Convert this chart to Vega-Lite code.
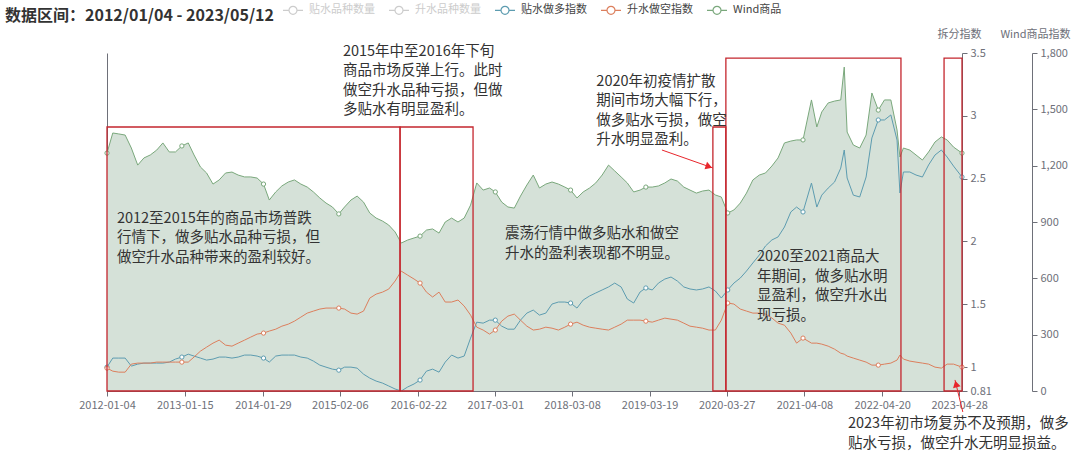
{
  "$schema": "https://vega.github.io/schema/vega-lite/v6.json",
  "width": 855,
  "height": 338,
  "autosize": {"type": "none"},
  "padding": {"left": 107, "top": 53, "right": 118, "bottom": 64},
  "background": "white",
  "config": {
    "font": "Noto Sans CJK SC",
    "view": {"stroke": null},
    "axis": {"grid": false, "domainColor": "#6e7079", "tickColor": "#6e7079", "labelColor": "#6e7079", "labelFontSize": 11, "labelFont": "Noto Sans CJK SC", "titleFont": "Noto Sans CJK SC"}
  },
  "datasets": {
    "main": [
      {"date":"2012-01-04","wind":1267,"贴水做多指数":1.000,"升水做空指数":0.992},
      {"date":"2012-02-01","wind":1374,"贴水做多指数":1.072,"升水做空指数":0.968},
      {"date":"2012-03-01","wind":1369,"贴水做多指数":1.072,"升水做空指数":0.960},
      {"date":"2012-04-01","wind":1363,"贴水做多指数":1.072,"升水做空指数":0.960},
      {"date":"2012-05-01","wind":1294,"贴水做多指数":1.008,"升水做空指数":1.024},
      {"date":"2012-06-01","wind":1203,"贴水做多指数":1.024,"升水做空指数":1.032},
      {"date":"2012-07-01","wind":1241,"贴水做多指数":1.032,"升水做空指数":1.032},
      {"date":"2012-08-01","wind":1257,"贴水做多指数":1.032,"升水做空指数":1.032},
      {"date":"2012-09-01","wind":1283,"贴水做多指数":1.032,"升水做空指数":1.040},
      {"date":"2012-10-01","wind":1321,"贴水做多指数":1.032,"升水做空指数":1.040},
      {"date":"2012-11-01","wind":1273,"贴水做多指数":1.040,"升水做空指数":1.040},
      {"date":"2012-12-01","wind":1273,"贴水做多指数":1.064,"升水做空指数":1.040},
      {"date":"2013-01-01","wind":1305,"贴水做多指数":1.080,"升水做空指数":1.040},
      {"date":"2013-02-01","wind":1321,"贴水做多指数":1.103,"升水做空指数":1.040},
      {"date":"2013-03-01","wind":1257,"贴水做多指数":1.088,"升水做空指数":1.080},
      {"date":"2013-04-01","wind":1193,"贴水做多指数":1.072,"升水做空指数":1.127},
      {"date":"2013-05-01","wind":1161,"贴水做多指数":1.056,"升水做空指数":1.159},
      {"date":"2013-06-01","wind":1102,"贴水做多指数":1.064,"升水做空指数":1.191},
      {"date":"2013-07-01","wind":1124,"贴水做多指数":1.080,"升水做空指数":1.215},
      {"date":"2013-08-01","wind":1161,"贴水做多指数":1.080,"升水做空指数":1.175},
      {"date":"2013-09-01","wind":1166,"贴水做多指数":1.072,"升水做空指数":1.167},
      {"date":"2013-10-01","wind":1150,"贴水做多指数":1.080,"升水做空指数":1.191},
      {"date":"2013-11-01","wind":1140,"贴水做多指数":1.096,"升水做空指数":1.215},
      {"date":"2013-12-01","wind":1140,"贴水做多指数":1.096,"升水做空指数":1.239},
      {"date":"2014-01-01","wind":1134,"贴水做多指数":1.088,"升水做空指数":1.263},
      {"date":"2014-02-01","wind":1102,"贴水做多指数":1.072,"升水做空指数":1.271},
      {"date":"2014-03-01","wind":1017,"贴水做多指数":1.040,"升水做空指数":1.287},
      {"date":"2014-04-01","wind":1060,"贴水做多指数":1.088,"升水做空指数":1.302},
      {"date":"2014-05-01","wind":1092,"贴水做多指数":1.096,"升水做空指数":1.326},
      {"date":"2014-06-01","wind":1113,"贴水做多指数":1.096,"升水做空指数":1.342},
      {"date":"2014-07-01","wind":1124,"贴水做多指数":1.096,"升水做空指数":1.366},
      {"date":"2014-08-01","wind":1102,"贴水做多指数":1.080,"升水做空指数":1.398},
      {"date":"2014-09-01","wind":1086,"贴水做多指数":1.072,"升水做空指数":1.430},
      {"date":"2014-10-01","wind":1060,"贴水做多指数":1.048,"升水做空指数":1.446},
      {"date":"2014-11-01","wind":1028,"贴水做多指数":1.016,"升水做空指数":1.462},
      {"date":"2014-12-01","wind":1001,"贴水做多指数":1.000,"升水做空指数":1.470},
      {"date":"2015-01-01","wind":980,"贴水做多指数":0.984,"升水做空指数":1.470},
      {"date":"2015-02-01","wind":943,"贴水做多指数":0.976,"升水做空指数":1.470},
      {"date":"2015-03-01","wind":980,"贴水做多指数":1.000,"升水做空指数":1.462},
      {"date":"2015-04-01","wind":1017,"贴水做多指数":1.000,"升水做空指数":1.430},
      {"date":"2015-05-01","wind":1038,"贴水做多指数":0.992,"升水做空指数":1.422},
      {"date":"2015-06-01","wind":1006,"贴水做多指数":0.944,"升水做空指数":1.446},
      {"date":"2015-07-01","wind":948,"贴水做多指数":0.913,"升水做空指数":1.549},
      {"date":"2015-08-01","wind":921,"贴水做多指数":0.889,"升水做空指数":1.581},
      {"date":"2015-09-01","wind":905,"贴水做多指数":0.873,"升水做空指数":1.597},
      {"date":"2015-10-01","wind":884,"贴水做多指数":0.850,"升水做空指数":1.621},
      {"date":"2015-11-01","wind":847,"贴水做多指数":0.826,"升水做空指数":1.685},
      {"date":"2015-12-01","wind":788,"贴水做多指数":0.810,"升水做空指数":1.764},
      {"date":"2016-01-01","wind":804,"贴水做多指数":0.842,"升水做空指数":1.732},
      {"date":"2016-02-01","wind":815,"贴水做多指数":0.866,"升水做空指数":1.701},
      {"date":"2016-03-01","wind":825,"贴水做多指数":0.897,"升水做空指数":1.669},
      {"date":"2016-04-01","wind":857,"贴水做多指数":0.968,"升水做空指数":1.597},
      {"date":"2016-05-01","wind":863,"贴水做多指数":0.984,"升水做空指数":1.558},
      {"date":"2016-06-01","wind":841,"贴水做多指数":0.960,"升水做空指数":1.597},
      {"date":"2016-07-01","wind":900,"贴水做多指数":1.040,"升水做空指数":1.518},
      {"date":"2016-08-01","wind":921,"贴水做多指数":1.096,"升水做空指数":1.518},
      {"date":"2016-09-01","wind":900,"贴水做多指数":1.072,"升水做空指数":1.534},
      {"date":"2016-10-01","wind":921,"贴水做多指数":1.088,"升水做空指数":1.486},
      {"date":"2016-11-01","wind":990,"贴水做多指数":1.231,"升水做空指数":1.414},
      {"date":"2016-12-01","wind":1108,"贴水做多指数":1.358,"升水做空指数":1.318},
      {"date":"2017-01-01","wind":1070,"贴水做多指数":1.350,"升水做空指数":1.295},
      {"date":"2017-02-01","wind":1081,"贴水做多指数":1.374,"升水做空指数":1.263},
      {"date":"2017-03-01","wind":1060,"贴水做多指数":1.374,"升水做空指数":1.295},
      {"date":"2017-04-01","wind":1006,"贴水做多指数":1.326,"升水做空指数":1.366},
      {"date":"2017-05-01","wind":980,"贴水做多指数":1.302,"升水做空指数":1.406},
      {"date":"2017-06-01","wind":974,"贴水做多指数":1.302,"升水做空指数":1.422},
      {"date":"2017-07-01","wind":1038,"贴水做多指数":1.374,"升水做空指数":1.374},
      {"date":"2017-08-01","wind":1097,"贴水做多指数":1.430,"升水做空指数":1.326},
      {"date":"2017-09-01","wind":1150,"贴水做多指数":1.454,"升水做空指数":1.295},
      {"date":"2017-10-01","wind":1081,"贴水做多指数":1.414,"升水做空指数":1.302},
      {"date":"2017-11-01","wind":1102,"贴水做多指数":1.430,"升水做空指数":1.318},
      {"date":"2017-12-01","wind":1113,"贴水做多指数":1.502,"升水做空指数":1.310},
      {"date":"2018-01-01","wind":1102,"贴水做多指数":1.518,"升水做空指数":1.295},
      {"date":"2018-02-01","wind":1086,"贴水做多指数":1.518,"升水做空指数":1.318},
      {"date":"2018-03-01","wind":1070,"贴水做多指数":1.510,"升水做空指数":1.342},
      {"date":"2018-04-01","wind":1028,"贴水做多指数":1.470,"升水做空指数":1.358},
      {"date":"2018-05-01","wind":1060,"贴水做多指数":1.534,"升水做空指数":1.334},
      {"date":"2018-06-01","wind":1081,"贴水做多指数":1.566,"升水做空指数":1.318},
      {"date":"2018-07-01","wind":1108,"贴水做多指数":1.590,"升水做空指数":1.310},
      {"date":"2018-08-01","wind":1150,"贴水做多指数":1.614,"升水做空指数":1.302},
      {"date":"2018-09-01","wind":1203,"贴水做多指数":1.638,"升水做空指数":1.295},
      {"date":"2018-10-01","wind":1172,"贴水做多指数":1.669,"升水做空指数":1.318},
      {"date":"2018-11-01","wind":1140,"贴水做多指数":1.638,"升水做空指数":1.342},
      {"date":"2018-12-01","wind":1108,"贴水做多指数":1.542,"升水做空指数":1.374},
      {"date":"2019-01-01","wind":1060,"贴水做多指数":1.510,"升水做空指数":1.374},
      {"date":"2019-02-01","wind":1070,"贴水做多指数":1.598,"升水做空指数":1.374},
      {"date":"2019-03-01","wind":1086,"贴水做多指数":1.630,"升水做空指数":1.366},
      {"date":"2019-04-01","wind":1086,"贴水做多指数":1.614,"升水做空指数":1.358},
      {"date":"2019-05-01","wind":1092,"贴水做多指数":1.669,"升水做空指数":1.374},
      {"date":"2019-06-01","wind":1108,"贴水做多指数":1.701,"升水做空指数":1.390},
      {"date":"2019-07-01","wind":1129,"贴水做多指数":1.717,"升水做空指数":1.382},
      {"date":"2019-08-01","wind":1118,"贴水做多指数":1.685,"升水做空指数":1.374},
      {"date":"2019-09-01","wind":1086,"贴水做多指数":1.638,"升水做空指数":1.350},
      {"date":"2019-10-01","wind":1070,"贴水做多指数":1.622,"升水做空指数":1.326},
      {"date":"2019-11-01","wind":1054,"贴水做多指数":1.614,"升水做空指数":1.318},
      {"date":"2019-12-01","wind":1065,"贴水做多指数":1.622,"升水做空指数":1.310},
      {"date":"2020-01-01","wind":1070,"贴水做多指数":1.638,"升水做空指数":1.295},
      {"date":"2020-02-01","wind":1044,"贴水做多指数":1.606,"升水做空指数":1.295},
      {"date":"2020-03-01","wind":1033,"贴水做多指数":1.550,"升水做空指数":1.374},
      {"date":"2020-04-01","wind":948,"贴水做多指数":1.614,"升水做空指数":1.510},
      {"date":"2020-05-01","wind":964,"贴水做多指数":1.669,"升水做空指数":1.502},
      {"date":"2020-06-01","wind":1001,"贴水做多指数":1.709,"升水做空指数":1.462},
      {"date":"2020-07-01","wind":1054,"贴水做多指数":1.765,"升水做空指数":1.446},
      {"date":"2020-08-01","wind":1124,"贴水做多指数":1.829,"升水做空指数":1.430},
      {"date":"2020-09-01","wind":1150,"贴水做多指数":1.892,"升水做空指数":1.430},
      {"date":"2020-10-01","wind":1161,"贴水做多指数":1.964,"升水做空指数":1.422},
      {"date":"2020-11-01","wind":1198,"贴水做多指数":2.012,"升水做空指数":1.391},
      {"date":"2020-12-01","wind":1241,"贴水做多指数":2.036,"升水做空指数":1.350},
      {"date":"2021-01-01","wind":1321,"贴水做多指数":2.115,"升水做空指数":1.334},
      {"date":"2021-02-01","wind":1331,"贴水做多指数":2.235,"升水做空指数":1.271},
      {"date":"2021-03-01","wind":1337,"贴水做多指数":2.274,"升水做空指数":1.191},
      {"date":"2021-04-01","wind":1337,"贴水做多指数":2.235,"升水做空指数":1.231},
      {"date":"2021-05-12","wind":1550,"贴水做多指数":2.465,"升水做空指数":1.191},
      {"date":"2021-06-07","wind":1406,"贴水做多指数":2.274,"升水做空指数":1.191},
      {"date":"2021-07-01","wind":1486,"贴水做多指数":2.369,"升水做空指数":1.183},
      {"date":"2021-08-01","wind":1534,"贴水做多指数":2.425,"升水做空指数":1.167},
      {"date":"2021-09-01","wind":1544,"贴水做多指数":2.473,"升水做空指数":1.143},
      {"date":"2021-10-01","wind":1550,"贴水做多指数":2.584,"升水做空指数":1.111},
      {"date":"2021-10-18","wind":1725,"贴水做多指数":2.728,"升水做空指数":1.103},
      {"date":"2021-11-01","wind":1379,"贴水做多指数":2.505,"升水做空指数":1.088},
      {"date":"2021-12-01","wind":1310,"贴水做多指数":2.369,"升水做空指数":1.072},
      {"date":"2022-01-01","wind":1294,"贴水做多指数":2.354,"升水做空指数":1.056},
      {"date":"2022-02-01","wind":1363,"贴水做多指数":2.513,"升水做空指数":1.040},
      {"date":"2022-03-01","wind":1587,"贴水做多指数":2.824,"升水做空指数":1.016},
      {"date":"2022-04-01","wind":1496,"贴水做多指数":2.967,"升水做空指数":1.016},
      {"date":"2022-05-01","wind":1550,"贴水做多指数":2.967,"升水做空指数":1.024},
      {"date":"2022-06-01","wind":1550,"贴水做多指数":3.007,"升水做空指数":1.032},
      {"date":"2022-07-01","wind":1390,"贴水做多指数":2.807,"升水做空指数":1.056},
      {"date":"2022-07-15","wind":1246,"贴水做多指数":2.386,"升水做空指数":1.096},
      {"date":"2022-08-01","wind":1294,"贴水做多指数":2.553,"升水做空指数":1.064},
      {"date":"2022-09-01","wind":1283,"贴水做多指数":2.553,"升水做空指数":1.048},
      {"date":"2022-10-01","wind":1257,"贴水做多指数":2.529,"升水做空指数":1.040},
      {"date":"2022-11-01","wind":1230,"贴水做多指数":2.513,"升水做空指数":1.032},
      {"date":"2022-12-01","wind":1273,"贴水做多指数":2.609,"升水做空指数":1.024},
      {"date":"2023-01-01","wind":1326,"贴水做多指数":2.688,"升水做空指数":1.000},
      {"date":"2023-02-01","wind":1353,"贴水做多指数":2.728,"升水做空指数":0.992},
      {"date":"2023-03-01","wind":1337,"贴水做多指数":2.672,"升水做空指数":1.024},
      {"date":"2023-04-01","wind":1299,"贴水做多指数":2.600,"升水做空指数":1.024},
      {"date":"2023-05-12","wind":1267,"贴水做多指数":2.513,"升水做空指数":1.000}
    ],
    "boxes": [
      {"a":"2012-01-04","b":"2015-11-25","lo":0.81,"hi":2.911},
      {"a":"2015-11-25","b":"2016-11-13","lo":0.81,"hi":2.911},
      {"a":"2020-01-20","b":"2020-03-23","lo":0.81,"hi":2.911},
      {"a":"2020-03-23","b":"2022-07-20","lo":0.81,"hi":3.46},
      {"a":"2023-02-14","b":"2023-05-12","lo":0.81,"hi":3.46}
    ],
    "notes": [
      {"d":"2015-02-21","v":3.564,"t":"2015年中至2016年下旬\n商品市场反弹上行。此时\n做空升水品种亏损，但做\n多贴水有明显盈利。"},
      {"d":"2012-02-21","v":2.235,"t":"2012至2015年的商品市场普跌\n行情下，做多贴水品种亏损，但\n做空升水品种带来的盈利较好。"},
      {"d":"2017-04-17","v":2.115,"t":"震荡行情中做多贴水和做空\n升水的盈利表现都不明显。"},
      {"d":"2018-07-04","v":3.325,"t":"2020年初疫情扩散\n期间市场大幅下行，\n做多贴水亏损，做空\n升水明显盈利。"},
      {"d":"2020-08-21","v":1.932,"t":"2020至2021商品大\n年期间，做多贴水明\n显盈利，做空升水出\n现亏损。"},
      {"d":"2021-11-05","v":0.603,"t":"2023年初市场复苏不及预期，做多\n贴水亏损，做空升水无明显损益。"}
    ],
    "arrows": [
      {"a":"2019-05-18","b":"2020-01-20","p":2.728,"q":2.585},
      {"a":"2023-05-16","b":"2023-04-08","p":0.643,"q":0.898}
    ]
  },
  "layer": [
    {
      "data": {"name": "main"},
      "layer": [
        {
          "mark": {"type": "area", "fill": "#d5e1d8", "opacity": 1},
          "encoding": {
            "x": {
              "field": "date", "type": "temporal",
              "scale": {"type": "utc", "domain": [{"year": 2012, "month": 1, "date": 4, "utc": true}, {"year": 2023, "month": 5, "date": 12, "utc": true}]},
              "axis": {
                "title": null, "format": "%Y-%m-%d", "tickSize": 5, "labelPadding": 3, "labelFlush": false, "labelOverlap": false,
                "values": [
                  {"year": 2012, "month": 1, "date": 4, "utc": true},
                  {"year": 2013, "month": 1, "date": 15, "utc": true},
                  {"year": 2014, "month": 1, "date": 29, "utc": true},
                  {"year": 2015, "month": 2, "date": 6, "utc": true},
                  {"year": 2016, "month": 2, "date": 22, "utc": true},
                  {"year": 2017, "month": 3, "date": 1, "utc": true},
                  {"year": 2018, "month": 3, "date": 8, "utc": true},
                  {"year": 2019, "month": 3, "date": 19, "utc": true},
                  {"year": 2020, "month": 3, "date": 27, "utc": true},
                  {"year": 2021, "month": 4, "date": 8, "utc": true},
                  {"year": 2022, "month": 4, "date": 20, "utc": true},
                  {"year": 2023, "month": 4, "date": 28, "utc": true}
                ]
              }
            },
            "y": {
              "field": "wind", "type": "quantitative",
              "scale": {"domain": [0, 1800], "nice": false},
              "axis": {
                "orient": "right", "offset": 70, "values": [0, 300, 600, 900, 1200, 1500, 1800], "format": ",.0f",
                "title": "Wind商品指数", "titleAngle": 0, "titleX": 3, "titleY": -19, "titleAlign": "center", "titleBaseline": "middle",
                "titleFontWeight": "normal", "titleFontSize": 11, "titleColor": "#6e7079", "tickSize": 5, "labelPadding": 3
              }
            }
          }
        },
        {
          "mark": {"type": "line", "color": "#7aa87c", "strokeWidth": 1},
          "encoding": {
            "x": {"field": "date", "type": "temporal"},
            "y": {"field": "wind", "type": "quantitative"}
          }
        },
        {
          "transform": [{"filter": "indexof(['2012-01-04','2013-01-01','2014-02-01','2015-02-01','2016-03-01','2017-03-01','2018-03-01','2019-03-01','2020-04-01','2021-04-01','2022-04-01','2023-05-12'], utcFormat(datum.date, '%Y-%m-%d')) >= 0"}],
          "mark": {"type": "point", "shape": "circle", "filled": false, "fill": "white", "stroke": "#7aa87c", "strokeWidth": 1, "size": 18, "opacity": 1},
          "encoding": {
            "x": {"field": "date", "type": "temporal"},
            "y": {"field": "wind", "type": "quantitative"}
          }
        }
      ]
    },
    {
      "layer": [
        {
          "data": {"name": "main"},
          "transform": [{"fold": ["贴水做多指数", "升水做空指数"], "as": ["series", "value"]}],
          "mark": {"type": "line", "strokeWidth": 1},
          "encoding": {
            "x": {"field": "date", "type": "temporal"},
            "y": {
              "field": "value", "type": "quantitative",
              "scale": {"domain": [0.81, 3.5], "nice": false, "zero": false},
              "axis": {
                "orient": "right", "values": [0.81, 1, 1.5, 2, 2.5, 3, 3.5], "format": "~g",
                "title": "拆分指数", "titleAngle": 0, "titleX": -3, "titleY": -19, "titleAlign": "center", "titleBaseline": "middle",
                "titleFontWeight": "normal", "titleFontSize": 11, "titleColor": "#6e7079", "tickSize": 5, "labelPadding": 3
              }
            },
            "color": {
              "field": "series", "type": "nominal",
              "scale": {
                "domain": ["贴水品种数量", "升水品种数量", "贴水做多指数", "升水做空指数", "Wind商品"],
                "range": ["#cccccc", "#cccccc", "#5d9cb0", "#dc7f5d", "#7aa87c"]
              },
              "legend": {
                "orient": "none", "legendX": -102, "legendY": -54, "direction": "horizontal", "padding": 0,
                "title": "数据区间：2012/01/04 - 2023/05/12", "titleOrient": "left", "titleFontSize": 16, "titleFontWeight": "bold",
                "titleColor": "#333333", "titlePadding": 8, "titleBaseline": "top", "titleLimit": 600,
                "labelFontSize": 11, "labelOffset": 5, "columnPadding": 11,
                "labelColor": {"expr": "(datum.label === '贴水品种数量' || datum.label === '升水品种数量') ? '#cccccc' : '#444444'"},
                "symbolType": "M-1,0L-0.4,0M0.4,0L1,0M-0.4,0A0.4,0.4,0,1,1,0.4,0A0.4,0.4,0,1,1,-0.4,0",
                "symbolSize": 400, "symbolStrokeWidth": 1.2, "symbolFillColor": "white"
              }
            }
          }
        },
        {
          "data": {"name": "main"},
          "transform": [
            {"filter": "indexof(['2012-01-04','2013-01-01','2014-02-01','2015-02-01','2016-03-01','2017-03-01','2018-03-01','2019-03-01','2020-04-01','2021-04-01','2022-04-01','2023-05-12'], utcFormat(datum.date, '%Y-%m-%d')) >= 0"},
            {"fold": ["贴水做多指数", "升水做空指数"], "as": ["series", "value"]}
          ],
          "mark": {"type": "point", "shape": "circle", "filled": false, "fill": "white", "strokeWidth": 1, "size": 18, "opacity": 1},
          "encoding": {
            "x": {"field": "date", "type": "temporal"},
            "y": {"field": "value", "type": "quantitative"},
            "color": {"field": "series", "type": "nominal"}
          }
        },
        {
          "data": {"name": "boxes"},
          "mark": {"type": "rect", "fill": "transparent", "stroke": "#c4262e", "strokeWidth": 1.3},
          "encoding": {
            "x": {"field": "a", "type": "temporal"},
            "x2": {"field": "b"},
            "y": {"field": "lo", "type": "quantitative"},
            "y2": {"field": "hi"}
          }
        },
        {
          "data": {"name": "notes"},
          "mark": {"type": "text", "align": "left", "baseline": "top", "fontSize": 14.5, "lineHeight": 19.5, "lineBreak": "\n", "color": "#333333"},
          "encoding": {
            "x": {"field": "d", "type": "temporal"},
            "y": {"field": "v", "type": "quantitative"},
            "text": {"field": "t"}
          }
        },
        {
          "data": {"name": "arrows"},
          "mark": {"type": "rule", "color": "#e8262c", "strokeWidth": 1},
          "encoding": {
            "x": {"field": "a", "type": "temporal"},
            "x2": {"field": "b"},
            "y": {"field": "p", "type": "quantitative"},
            "y2": {"field": "q"}
          }
        },
        {
          "data": {"values": [{"d": "2020-01-01", "v": 2.596}]},
          "mark": {"type": "point", "shape": "triangle-right", "filled": true, "color": "#e8262c", "size": 60, "angle": 19, "opacity": 1},
          "encoding": {
            "x": {"field": "d", "type": "temporal"},
            "y": {"field": "v", "type": "quantitative"}
          }
        },
        {
          "data": {"values": [{"d": "2023-04-13", "v": 0.866}]},
          "mark": {"type": "point", "shape": "triangle-right", "filled": true, "color": "#e8262c", "size": 60, "angle": 256, "opacity": 1},
          "encoding": {
            "x": {"field": "d", "type": "temporal"},
            "y": {"field": "v", "type": "quantitative"}
          }
        }
      ]
    },
    {
      "data": {"values": [{"z": 0}]},
      "mark": {"type": "rule", "opacity": 0},
      "encoding": {
        "y": {"field": "z", "type": "quantitative", "scale": {"domain": [0, 1]}, "axis": {"orient": "left", "labels": false, "ticks": false, "title": null, "domainColor": "#6e7079"}}
      }
    }
  ],
  "resolve": {"scale": {"y": "independent"}}
}
